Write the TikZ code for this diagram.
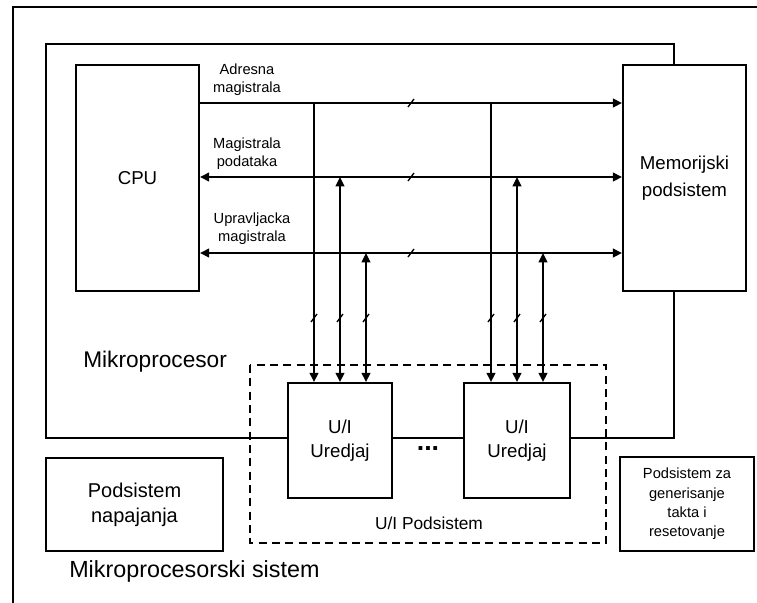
\documentclass[tikz,border=0pt]{standalone}
\usepackage{fontspec}
\setmainfont{Liberation Sans}
\usetikzlibrary{arrows.meta,calc}

\tikzset{
  blok/.style={draw,fill=white,line width=1.6pt,align=center,inner sep=0pt},
  bus/.style={line width=1.5pt,-{Triangle[length=7pt,width=6.5pt]}},
  bibus/.style={line width=1.5pt,{Triangle[length=7pt,width=6.5pt]}-{Triangle[length=7pt,width=6.5pt]}},
  oznaka/.style={align=center,inner sep=0pt,font=\fontsize{11}{13.5}\selectfont},
  bustick/.pic={\draw[line width=1pt] (-3,4) -- (3,-4);}
}

\begin{document}
\begin{tikzpicture}[x=0.75pt,y=-0.75pt]
\useasboundingbox (0,0) rectangle (757,603);
% okviri
\draw[line width=2pt] (13,603) -- (13,7) -- (757,7);
\draw[line width=1.6pt] (46,44) rectangle (674,438);
\draw[line width=1.6pt,dash pattern=on 6pt off 4pt] (250,365) rectangle (606,543);

% blokovi
\node[blok,minimum width=92pt,minimum height=169.5pt,font=\fontsize{14}{17}\selectfont] (cpu) at (137.5,178) {CPU};
\node[blok,minimum width=92pt,minimum height=169.5pt,font=\fontsize{14}{20}\selectfont] (mem) at (684.5,178) {Memorijski\\podsistem};
\node[blok,minimum width=78pt,minimum height=86pt,font=\fontsize{14}{18}\selectfont] (io1) at (340,440.5) {U/I\\Uredjaj};
\node[blok,minimum width=79pt,minimum height=86pt,font=\fontsize{14}{18}\selectfont] (io2) at (517,440.5) {U/I\\Uredjaj};
\node[blok,minimum width=133pt,minimum height=70pt,font=\fontsize{15}{19}\selectfont] (nap) at (134.5,504.5) {Podsistem\\napajanja};
\node[blok,minimum width=100.5pt,minimum height=70.5pt,font=\fontsize{11}{14.5}\selectfont] (takt) at (687,504) {Podsistem za\\generisanje\\takta i\\resetovanje};

% natpisi
\node[oznaka] (adrtxt) at (247,80) {Adresna\\magistrala};
\node[oznaka] (dattxt) at (247,154) {Magistrala\\podataka};
\node[oznaka] (ctltxt) at (252,229) {Upravljacka\\magistrala};
\node[anchor=west,inner sep=0pt,font=\fontsize{17}{20}\selectfont] (mp) at (83,362) {Mikroprocesor};
\node[anchor=west,inner sep=0pt,font=\fontsize{17.5}{20}\selectfont] (mps) at (69,571) {Mikroprocesorski sistem};
\node[inner sep=0pt,font=\fontsize{13}{15}\selectfont] (uip) at (429,523) {U/I Podsistem};
\node[anchor=base,inner sep=0pt,font=\bfseries\fontsize{20}{20}\selectfont] (dots) at (428,450) {...};

% magistrale
\coordinate (adr) at (0,103);
\coordinate (dat) at (0,177);
\coordinate (ctl) at (0,253);
\coordinate (tk) at (0,318);
\draw[bus] (cpu.east |- adr) -- (mem.west |- adr);
\draw[bibus] (cpu.east |- dat) -- (mem.west |- dat);
\draw[bibus] (cpu.east |- ctl) -- (mem.west |- ctl);
\foreach \b in {adr,dat,ctl} \path (\b) ++(411,0) pic {bustick};

\foreach \u in {io1,io2} {
  \draw[bus] ($(\u.north |- adr)+(-26,0)$) -- ($(\u.north)+(-26,0)$);
  \draw[bibus] (\u.north |- dat) -- (\u.north);
  \draw[bibus] ($(\u.north |- ctl)+(26,0)$) -- ($(\u.north)+(26,0)$);
  \foreach \s in {-26,0,26} \path (\u.north |- tk) ++(\s,0) pic {bustick};
}
\end{tikzpicture}
\end{document}
